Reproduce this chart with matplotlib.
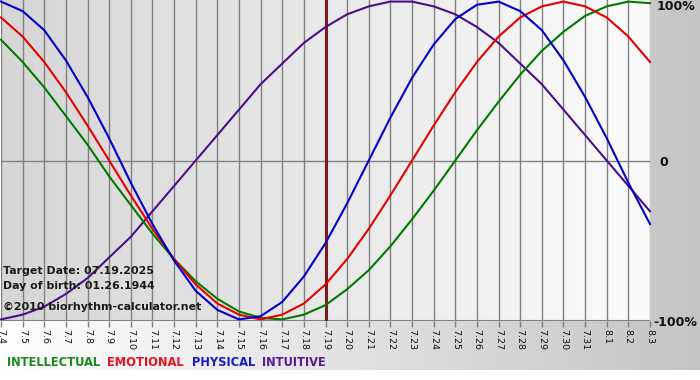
import numpy as np
import matplotlib
matplotlib.use("Agg")
import matplotlib.pyplot as plt

# days shown on the x axis (07.04.2025 - 08.03.2025)
day_labels = ["7.4", "7.5", "7.6", "7.7", "7.8", "7.9", "7.10", "7.11", "7.12",
              "7.13", "7.14", "7.15", "7.16", "7.17", "7.18", "7.19", "7.20",
              "7.21", "7.22", "7.23", "7.24", "7.25", "7.26", "7.27", "7.28",
              "7.29", "7.30", "7.31", "8.1", "8.2", "8.3"]
target_label = "7.19"

# cycle values per day (-1 .. 1)
physical = [1.00, 0.94, 0.82, 0.63, 0.40, 0.14, -0.14, -0.40, -0.63, -0.82,
            -0.94, -1.00, -0.98, -0.89, -0.73, -0.52, -0.27, 0.00, 0.27, 0.52,
            0.73, 0.89, 0.98, 1.00, 0.94, 0.82, 0.63, 0.40, 0.14, -0.14, -0.40]
emotional = [0.90, 0.78, 0.62, 0.43, 0.22, 0.00, -0.22, -0.43, -0.62, -0.78,
             -0.90, -0.97, -1.00, -0.97, -0.90, -0.78, -0.62, -0.43, -0.22, 0.00,
             0.22, 0.43, 0.62, 0.78, 0.90, 0.97, 1.00, 0.97, 0.90, 0.78, 0.62]
intellectual = [0.76, 0.62, 0.46, 0.28, 0.10, -0.10, -0.28, -0.46, -0.62, -0.76,
                -0.87, -0.95, -0.99, -1.00, -0.97, -0.91, -0.81, -0.69, -0.54, -0.37,
                -0.19, 0.00, 0.19, 0.37, 0.54, 0.69, 0.81, 0.91, 0.97, 1.00, 0.99]
intuitive = [-1.00, -0.97, -0.92, -0.84, -0.74, -0.61, -0.48, -0.32, -0.16, 0.00,
             0.16, 0.32, 0.48, 0.61, 0.74, 0.84, 0.92, 0.97, 1.00, 1.00,
             0.97, 0.92, 0.84, 0.74, 0.61, 0.48, 0.32, 0.16, 0.00, -0.16, -0.32]

series_names = ["INTELLECTUAL", "EMOTIONAL", "PHYSICAL", "INTUITIVE"]
y_labels = ["100%", "0", "-100%"]

W, H = 700, 380
fig = plt.figure(figsize=(W / 100, H / 100), dpi=100)

# outer background: white -> gray, left to right
bg = fig.add_axes([0, 0, 1, 1])
bg.set_xlim(0, 1)
bg.set_ylim(0, 1)
bg.axis("off")
g = np.linspace(0, 1, 256)
c0, c1 = np.array([1.0, 1.0, 1.0]), np.array([0.77, 0.77, 0.77])
outer = (c0[None, :] * (1 - g[:, None]) + c1[None, :] * g[:, None])[None, :, :]
bg.imshow(outer, extent=[0, 1, 10 / H, 1], aspect="auto", zorder=0)

# plot area
ax = fig.add_axes([1 / W, 59 / H, 649 / W, 321 / H])
ax.set_facecolor("none")
x = np.arange(len(day_labels))
ax.set_xlim(0, len(day_labels) - 1)
ax.set_ylim(-1.01, 1.01)

p0, p1 = np.array([0.84, 0.84, 0.84]), np.array([0.985, 0.985, 0.985])
inner = (p0[None, :] * (1 - g[:, None]) + p1[None, :] * g[:, None])[None, :, :]
ax.imshow(inner, extent=[0, len(day_labels) - 1, -1.01, 1.01], aspect="auto", zorder=0)

for xi in x:
    ax.axvline(xi, color="#808080", lw=1.0, zorder=1)
ax.axhline(0, color="#808080", lw=1.0, zorder=1)
ax.axhline(-1.01, color="#808080", lw=1.5, zorder=1)

ti = day_labels.index(target_label)
ax.axvline(ti, color="#7a1a1a", lw=2.2, zorder=2)

ax.plot(x, intuitive, color="#4b0f8a", lw=1.5, zorder=3, clip_on=False)
ax.plot(x, intellectual, color="#007a00", lw=1.5, zorder=4, clip_on=False)
ax.plot(x, emotional, color="#e60000", lw=1.5, zorder=5, clip_on=False)
ax.plot(x, physical, color="#0000cc", lw=1.5, zorder=6, clip_on=False)

for s in ax.spines.values():
    s.set_visible(False)
ax.set_yticks([])
ax.set_xticks(x)
ax.set_xticklabels(day_labels, rotation=270, fontsize=6.8, color="#111111")
ax.tick_params(axis="x", direction="out", length=4, width=1, color="#808080", pad=2)

# right side percentage labels
for lab, ypx, xpx in zip(y_labels, [7, 162, 322], [657, 659, 653]):
    fig.text(xpx / W, 1 - ypx / H, lab, fontsize=9, fontweight="bold",
             color="#111111", ha="left", va="center")

# info text
info = ["Target Date: 07.19.2025", "Day of birth: 01.26.1944",
        "\u00a92010 biorhythm-calculator.net"]
for txt, ypx in zip(info, [271, 286, 307]):
    fig.text(3 / W, 1 - ypx / H, txt, fontsize=7.9, fontweight="bold",
             color="#1a1a1a", ha="left", va="center")

# legend words
leg_colors = ["#1a8a1a", "#ee1122", "#1a1acc", "#5a1a99"]
for name, col, xpx in zip(series_names, leg_colors, [7, 107, 192, 262]):
    fig.text(xpx / W, 1 - 362 / H, name, fontsize=8.3, fontweight="bold",
             color=col, ha="left", va="center")

fig.savefig("out.png", dpi=100)
